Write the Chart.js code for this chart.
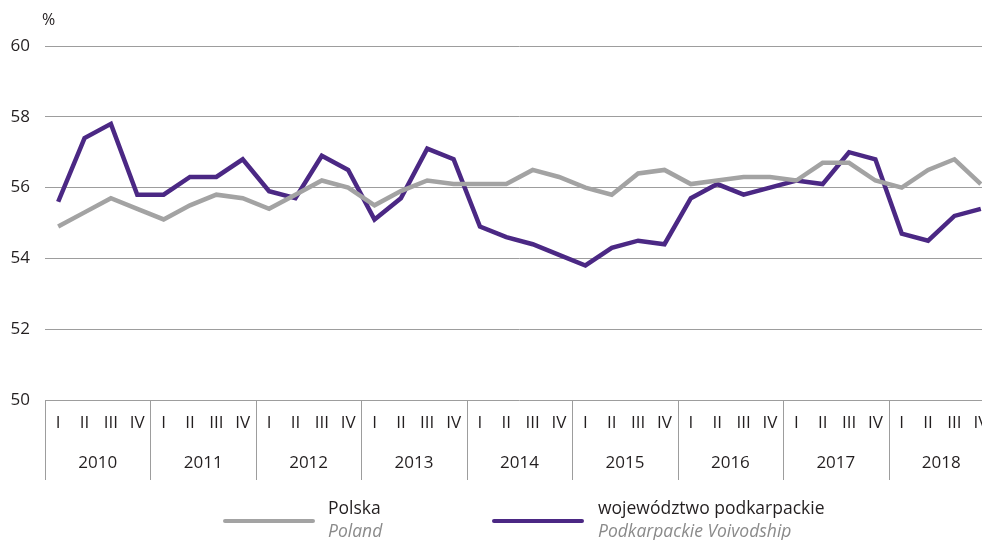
<!DOCTYPE html>
<html>
<head>
<meta charset="utf-8">
<script src="https://cdn.jsdelivr.net/npm/chart.js@4.4.1/dist/chart.umd.min.js"></script>
<style>
    html, body { margin: 0; padding: 0; background: #fff; overflow: hidden; }
    #wrap { position: relative; width: 982px; height: 540px; overflow: hidden; font-family: "Open Sans", sans-serif; color: #231f20; }
    #chart { position: absolute; left: 0; top: 0; }
    .unit { position: absolute; left: 42px; top: 8px; font-size: 16px; }
    .swatch { position: absolute; height: 4px; border-radius: 2px; }
    .leg { position: absolute; font-size: 17.5px; line-height: 23px; }
    .leg i { color: #8a8a8a; display: block; }
</style>
</head>
<body>
<div id="wrap">
    <canvas id="chart" width="994" height="540"></canvas>
    <div class="unit">%</div>
    <div class="swatch" style="left:223px; top:519px; width:92px; background:#a3a3a3"></div>
    <div class="leg" style="left:328px; top:496px">Polska<i>Poland</i></div>
    <div class="swatch" style="left:492px; top:519px; width:92px; background:#4b2884"></div>
    <div class="leg" style="left:598px; top:496px">województwo podkarpackie<i>Podkarpackie Voivodship</i></div>
</div>
<script>
        const years = ['2010', '2011', '2012', '2013', '2014', '2015', '2016', '2017', '2018'];
        const quarters = ['I', 'II', 'III', 'IV'];

        // Polska / Poland
        const polska = [
            54.9, 55.3, 55.7, 55.4,
            55.1, 55.5, 55.8, 55.7,
            55.4, 55.8, 56.2, 56.0,
            55.5, 55.9, 56.2, 56.1,
            56.1, 56.1, 56.5, 56.3,
            56.0, 55.8, 56.4, 56.5,
            56.1, 56.2, 56.3, 56.3,
            56.2, 56.7, 56.7, 56.2,
            56.0, 56.5, 56.8, 56.1
        ];

        // województwo podkarpackie / Podkarpackie Voivodship
        const podkarpackie = [
            55.6, 57.4, 57.8, 55.8,
            55.8, 56.3, 56.3, 56.8,
            55.9, 55.7, 56.9, 56.5,
            55.1, 55.7, 57.1, 56.8,
            54.9, 54.6, 54.4, 54.1,
            53.8, 54.3, 54.5, 54.4,
            55.7, 56.1, 55.8, 56.0,
            56.2, 56.1, 57.0, 56.8,
            54.7, 54.5, 55.2, 55.4
        ];

        const yTicks = [50, 52, 54, 56, 58, 60];

        const gridColor = '#9d9d9d';
        const textColor = '#231f20';
        const labelFont = '17px "Open Sans"';

        const labels = [];
        years.forEach(y => quarters.forEach(q => labels.push(q + ' ' + y)));

        // quarter and year rows under the plot, with year separators
        const quarterAxis = {
            id: 'quarterAxis',
            afterDraw(chart) {
                const { ctx, chartArea } = chart;
                const x = chart.scales.x;
                const top = Math.round(chartArea.bottom);
                ctx.save();
                ctx.strokeStyle = gridColor;
                ctx.lineWidth = 1;
                ctx.fillStyle = textColor;
                ctx.font = labelFont;
                ctx.textAlign = 'center';
                ctx.textBaseline = 'middle';

                labels.forEach((label, i) => {
                    ctx.fillText(quarters[i % 4], x.getPixelForValue(i), top + 23);
                });

                years.forEach((year, k) => {
                    const first = k * 4;
                    const left = first === 0 ? chartArea.left
                        : (x.getPixelForValue(first - 1) + x.getPixelForValue(first)) / 2;
                    const right = first + 4 >= labels.length ? chartArea.right
                        : (x.getPixelForValue(first + 3) + x.getPixelForValue(first + 4)) / 2;
                    const lx = Math.round(left) + 0.5;
                    ctx.beginPath();
                    ctx.moveTo(lx, top);
                    ctx.lineTo(lx, top + 80);
                    ctx.stroke();
                    ctx.fillText(year, (left + right) / 2, top + 63);
                });
                ctx.restore();
            }
        };

        const ctx = document.getElementById('chart').getContext('2d');
        new Chart(ctx, {
            type: 'line',
            data: {
                labels: labels,
                datasets: [{
                    label: 'Polska',
                    data: polska,
                    borderColor: '#a3a3a3',
                    borderWidth: 4.5,
                    pointRadius: 0,
                    tension: 0
                }, {
                    label: 'województwo podkarpackie',
                    data: podkarpackie,
                    borderColor: '#4b2884',
                    borderWidth: 4.5,
                    pointRadius: 0,
                    tension: 0
                }]
            },
            options: {
                responsive: false,
                animation: false,
                layout: { padding: { top: 46, bottom: 140, right: 0, left: 0 } },
                plugins: { legend: { display: false }, tooltip: { enabled: false } },
                scales: {
                    x: {
                        type: 'category',
                        offset: true,
                        display: false
                    },
                    y: {
                        min: 50,
                        max: 60,
                        afterFit(scale) { scale.width = 45; },
                        afterBuildTicks(scale) { scale.ticks = yTicks.map(v => ({ value: v })); },
                        border: { display: false },
                        grid: { color: gridColor, lineWidth: 1, drawTicks: false },
                        ticks: {
                            padding: 15,
                            color: textColor,
                            font: { family: '"Open Sans"', size: 17 }
                        }
                    }
                }
            },
            plugins: [quarterAxis]
        });
</script>
</body>
</html>
